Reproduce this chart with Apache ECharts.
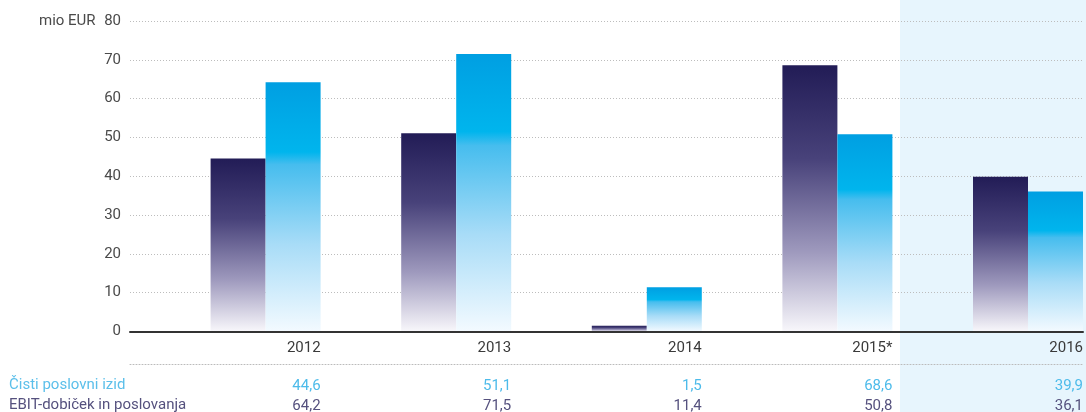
<!DOCTYPE html>
<html>
<head>
<meta charset="utf-8">
<script src="https://cdn.jsdelivr.net/npm/echarts@6/dist/echarts.min.js"></script>
<style>
    html, body { margin: 0; padding: 0; background: #fff; }
    #chart { width: 1086px; height: 412px; }
</style>
</head>
<body>
<div id="chart"></div>
<script>
    // data
    var years = ['2012', '2013', '2014', '2015*', '2016'];
    var cisti = [44.6, 51.1, 1.5, 68.6, 39.9];   // Čisti poslovni izid
    var ebit = [64.2, 71.5, 11.4, 50.8, 36.1];   // EBIT-dobiček in poslovanja
    var yMin = 0, yMax = 80, yStep = 10;

    var font = 'Roboto';
    var bandW = 953 / years.length;

    function fmt(v) {
        return v.toFixed(1).replace('.', ',');
    }

    // label pushed to the right edge of its band
    function rightLabel(color, margin, getText) {
        return {
            show: true,
            margin: margin,
            formatter: function (v, i) { return '{a|' + getText(v, i) + '}'; },
            rich: {
                a: { width: bandW, align: 'right', color: color, fontFamily: font, fontSize: 15 }
            }
        };
    }

    var darkGrad = new echarts.graphic.LinearGradient(0, 0, 0, 1, [
        { offset: 0, color: '#221c56' },
        { offset: 0.35, color: '#48427a' },
        { offset: 0.7, color: '#9e99bd' },
        { offset: 1, color: '#f8f7fb' }
    ]);
    var cyanGrad = new echarts.graphic.LinearGradient(0, 0, 0, 1, [
        { offset: 0, color: '#009fe2' },
        { offset: 0.28, color: '#00b5ed' },
        { offset: 0.33, color: '#46bdee' },
        { offset: 0.65, color: '#a8dcf7' },
        { offset: 1, color: '#f3faff' }
    ]);

    var myChart = echarts.init(document.getElementById('chart'), null, { renderer: 'canvas' });

    var option = {
        animation: false,
        backgroundColor: '#fff',
        graphic: [
            {
                type: 'rect', z: -10, silent: true,
                shape: { x: 900, y: 0, width: 186, height: 412 },
                style: { fill: '#e7f5fd' }
            },
            {
                type: 'text', left: 39, top: 14,
                style: { text: 'mio EUR', fill: '#4a4a4a', font: '15px Roboto' }
            },
            {
                type: 'text', left: 9, top: 378,
                style: { text: 'Čisti poslovni izid', fill: '#5bbfea', font: '15px Roboto' }
            },
            {
                type: 'text', left: 9, top: 398,
                style: { text: 'EBIT-dobiček in poslovanja', fill: '#55517e', font: '15px Roboto' }
            }
        ],
        grid: [
            { left: 130, width: 953, top: 21, bottom: 80.5, outerBoundsMode: 'none' },
            { left: 130 + bandW / 2 - 55, width: 953, top: 21, bottom: 80.5, outerBoundsMode: 'none' }
        ],
        xAxis: [
            {
                type: 'category', gridIndex: 0, data: years, z: 5, position: 'bottom',
                axisLine: { lineStyle: { color: '#333', width: 2 } },
                axisTick: { length: 4, lineStyle: { color: '#333', width: 2 } },
                axisLabel: rightLabel('#3a3a3a', 9, function (v) { return v; })
            },
            {
                type: 'category', gridIndex: 0, data: years, offset: 33, position: 'bottom',
                axisLine: { lineStyle: { color: '#bbb', type: [1, 2] } },
                axisTick: { show: false },
                axisLabel: rightLabel('#4dbbea', 14, function (v, i) { return fmt(cisti[i]); })
            },
            {
                type: 'category', gridIndex: 0, data: years, offset: 33, position: 'bottom',
                axisLine: { show: false },
                axisTick: { show: false },
                axisLabel: rightLabel('#55517e', 34, function (v, i) { return fmt(ebit[i]); })
            },
            {
                type: 'category', gridIndex: 1, data: years, show: false, position: 'bottom'
            }
        ],
        yAxis: [
            {
                type: 'value', gridIndex: 0, min: yMin, max: yMax, interval: yStep,
                axisLine: { show: false },
                axisTick: { show: false },
                axisLabel: { color: '#4a4a4a', fontFamily: font, fontSize: 15, margin: 9 },
                splitLine: { lineStyle: { color: '#bdbdbd', type: [1, 2] } }
            },
            {
                type: 'value', gridIndex: 1, min: yMin, max: yMax, interval: yStep, show: false,
                splitLine: { show: false }
            }
        ],
        series: [
            {
                name: 'Čisti poslovni izid', type: 'bar', xAxisIndex: 3, yAxisIndex: 1,
                barWidth: 55, barGap: 0,
                itemStyle: { color: darkGrad },
                data: cisti
            },
            {
                name: 'EBIT-dobiček in poslovanja', type: 'bar', xAxisIndex: 3, yAxisIndex: 1,
                barWidth: 55, barGap: 0,
                itemStyle: { color: cyanGrad },
                data: ebit
            }
        ]
    };

    myChart.setOption(option);
</script>
</body>
</html>
